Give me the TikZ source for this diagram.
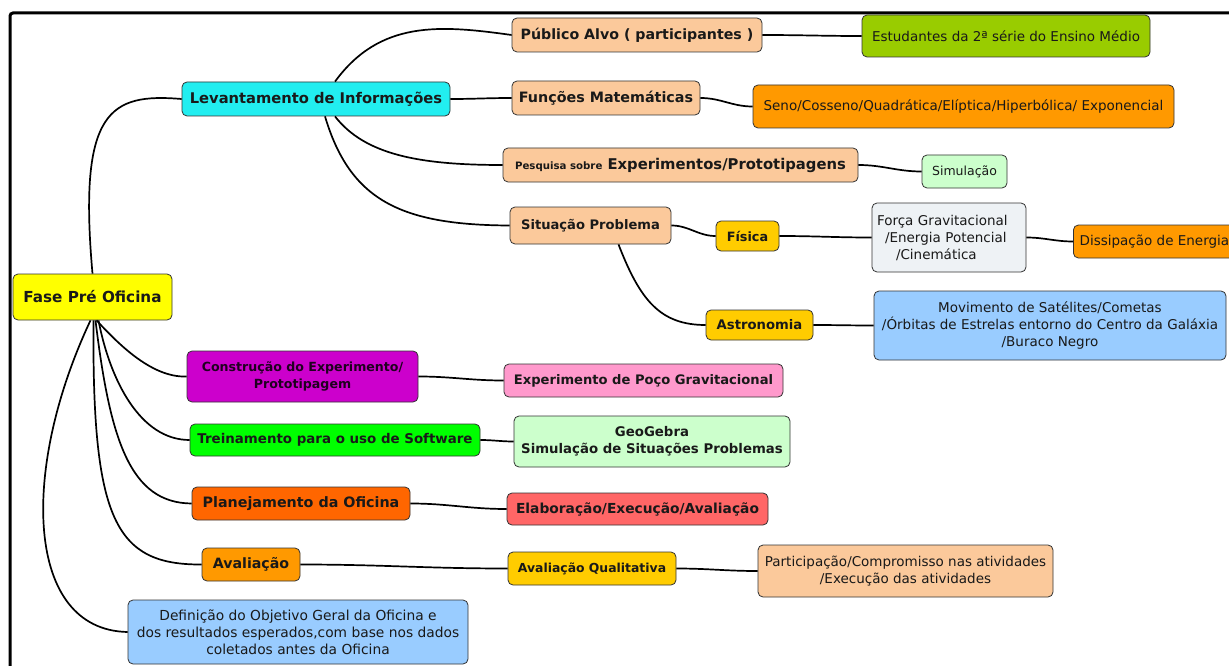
\documentclass[tikz,border=0pt]{standalone}
\usepackage{fontspec}
\setmainfont{DejaVu Sans}
\definecolor{cpeach}{HTML}{FBC99B}
\definecolor{ccyan}{HTML}{22EEF0}
\definecolor{cyel}{HTML}{FFFF00}
\definecolor{clime}{HTML}{99CC00}
\definecolor{corange}{HTML}{FF9900}
\definecolor{cmint}{HTML}{CCFFCC}
\definecolor{cgold}{HTML}{FFCC00}
\definecolor{cgrey}{HTML}{EEF2F5}
\definecolor{cblue}{HTML}{99CCFF}
\definecolor{cmag}{HTML}{CC00CC}
\definecolor{cpink}{HTML}{FF99CC}
\definecolor{cgreen}{HTML}{00FF00}
\definecolor{cred}{HTML}{FF6600}
\definecolor{csalmon}{HTML}{FF6666}
\definecolor{cline}{HTML}{333333}
\newcommand{\fs}[1]{\fontsize{#1}{17}\selectfont}
\begin{document}
\begin{tikzpicture}[x=1pt,y=-1pt,
  box/.style={draw=cline, line width=0.8pt, rounded corners=5pt, inner sep=2pt, align=center, text=black!90},
  bb/.style={box, font=\fs{13.5}\bfseries},
  nb/.style={box, font=\fs{13.5}},
  conn/.style={draw=black, line width=1.7pt}]
\useasboundingbox (0,0) rectangle (1229,666);
\fill[white] (0,0) rectangle (1229,666);
\draw[line width=3pt, rounded corners=3pt] (10,670) -- (10,13) -- (1232,13);

% nodes
\node[bb, fill=cyel, minimum width=159, minimum height=46, font=\fs{15.2}\bfseries] (fase) at (92.5,297) {Fase Pré Oficina};
\node[bb, fill=ccyan, minimum width=268, minimum height=34, font=\fs{14.7}\bfseries] (lev) at (316,99) {Levantamento de Informações};
\node[bb, fill=cpeach, minimum width=250, minimum height=34, font=\fs{14.2}\bfseries] (pub) at (637,35) {Público Alvo ( participantes )};
\node[nb, fill=clime, minimum width=288, minimum height=42] (est) at (1006,36) {Estudantes da 2ª série do Ensino Médio};
\node[bb, fill=cpeach, minimum width=188, minimum height=34, font=\fs{14.3}\bfseries] (fun) at (606,98) {Funções Matemáticas};
\node[nb, fill=corange, minimum width=421, minimum height=43] (seno) at (963.5,106.5) {Seno/Cosseno/Quadrática/Elíptica/Hiperbólica/ Exponencial};
\node[bb, fill=cpeach, minimum width=355, minimum height=34, font=\fs{14.8}\bfseries] (pes) at (680.5,165) {{\fs{10.2}Pesquisa sobre} Experimentos/Prototipagens};
\node[nb, fill=cmint, minimum width=85, minimum height=33, font=\fs{12.5}] (sim) at (964.5,171.5) {Simulação};
\node[bb, fill=cpeach, minimum width=161, minimum height=37, font=\fs{13.1}\bfseries] (sit) at (590.5,225.5) {Situação Problema};
\node[bb, fill=cgold, minimum width=63, minimum height=30, font=\fs{12.8}\bfseries] (fis) at (747.5,236) {Física};
\node[nb, fill=cgrey, minimum width=154, minimum height=69, align=left, text width=144] (forca) at (949,237.5) {Força Gravitacional\\\hspace*{8pt}/Energia Potencial\\\hspace*{19pt}/Cinemática};
\node[nb, fill=corange, minimum width=170, minimum height=33, anchor=west] (diss) at (1073,241.5) {Dissipação de Energia\hspace*{8pt}};
\node[bb, fill=cgold, minimum width=107, minimum height=30, font=\fs{13.2}\bfseries] (ast) at (759.5,325) {Astronomia};
\node[nb, fill=cblue, minimum width=352, minimum height=69] (mov) at (1050,325.5) {Movimento de Satélites/Cometas\\/Órbitas de Estrelas entorno do Centro da Galáxia\\/Buraco Negro};
\node[bb, fill=cmag, minimum width=231, minimum height=51, text=black!85!cmag, font=\fs{12.6}\bfseries] (con) at (302.5,376.5) {Construção do Experimento/\\Prototipagem};
\node[bb, fill=cpink, minimum width=279, minimum height=33, font=\fs{13.1}\bfseries] (exp) at (643.5,380.5) {Experimento de Poço Gravitacional};
\node[bb, fill=cgreen, minimum width=290, minimum height=32, font=\fs{13.4}\bfseries] (tre) at (335,440) {Treinamento para o uso de Software};
\node[bb, fill=cmint, minimum width=276, minimum height=51, font=\fs{13.3}\bfseries] (geo) at (652,441.5) {GeoGebra\\Simulação de Situações Problemas};
\node[bb, fill=cred, minimum width=218, minimum height=33, font=\fs{14.3}\bfseries] (pla) at (301,503.5) {Planejamento da Oficina};
\node[bb, fill=csalmon, minimum width=261, minimum height=32, font=\fs{13.8}\bfseries] (ela) at (637.5,509) {Elaboração/Execução/Avaliação};
\node[bb, fill=corange, minimum width=98, minimum height=33, font=\fs{14.2}\bfseries] (ava) at (251,564.5) {Avaliação};
\node[bb, fill=cgold, minimum width=168, minimum height=33, font=\fs{12.4}\bfseries] (avq) at (592,568.5) {Avaliação Qualitativa};
\node[nb, fill=cpeach, minimum width=295, minimum height=52] (par) at (905.5,571) {Participação/Compromisso nas atividades\\/Execução das atividades};
\node[nb, fill=cblue, minimum width=340, minimum height=64, font=\fs{13.8}] (def) at (298,632) {Definição do Objetivo Geral da Oficina e\\dos resultados esperados,com base nos dados\\coletados antes da Oficina};

% connectors
\draw[conn] (fase.north) .. controls (78,110) and (110,93) .. (lev.west);
\draw[conn] ([xshift=19pt]lev.north) .. controls (380,20) and (440,25) .. (pub.west);
\draw[conn] (lev.east) to[out=0,in=180] (fun.west);
\draw[conn] ([xshift=19pt]lev.south) .. controls (365,155) and (420,165) .. (pes.west);
\draw[conn] ([xshift=9pt]lev.south) .. controls (350,200) and (400,225) .. (sit.west);
\draw[conn] (pub.east) to[out=0,in=180] (est.west);
\draw[conn] (fun.east) to[out=0,in=180] (seno.west);
\draw[conn] (pes.east) to[out=0,in=180] (sim.west);
\draw[conn] (sit.east) to[out=0,in=180] (fis.west);
\draw[conn] ([xshift=28pt]sit.south) .. controls (640,300) and (660,325) .. (ast.west);
\draw[conn] (fis.east) to[out=0,in=180] (forca.west);
\draw[conn] (forca.east) to[out=0,in=180] (diss.west);
\draw[conn] (ast.east) to[out=0,in=180] (mov.west);
\draw[conn] ([xshift=4pt]fase.south) .. controls (115,340) and (150,378) .. (con.west);
\draw[conn] ([xshift=6pt]fase.south) .. controls (110,380) and (140,440) .. (tre.west);
\draw[conn] ([xshift=3pt]fase.south) .. controls (110,440) and (130,503) .. (pla.west);
\draw[conn] ([xshift=1pt]fase.south) .. controls (92,520) and (115,565) .. (ava.west);
\draw[conn] ([xshift=-2pt]fase.south) .. controls (20,470) and (25,630) .. (def.west);
\draw[conn] (con.east) to[out=0,in=180] (exp.west);
\draw[conn] (tre.east) to[out=0,in=180] (geo.west);
\draw[conn] (pla.east) to[out=0,in=180] (ela.west);
\draw[conn] (ava.east) to[out=0,in=180] (avq.west);
\draw[conn] (avq.east) to[out=0,in=180] (par.west);
\end{tikzpicture}
\end{document}
